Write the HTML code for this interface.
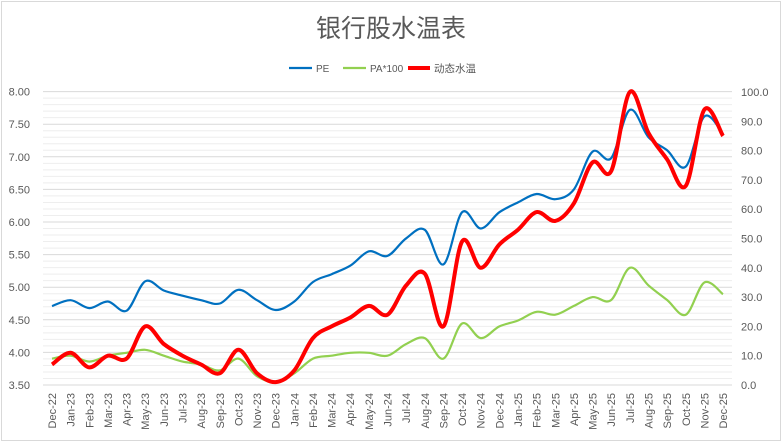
<!DOCTYPE html>
<html><head><meta charset="utf-8"><style>
body{margin:0;background:#fff;}
svg text{font-family:"Liberation Sans","Noto Sans CJK SC",sans-serif;fill:#595959;}
</style></head><body>
<svg id="s" width="783" height="443" viewBox="0 0 783 443" xmlns="http://www.w3.org/2000/svg">
<rect x="1.5" y="1.5" width="779" height="439" fill="#fff" stroke="#d9d9d9"/>
<text x="391" y="37" font-size="25" text-anchor="middle">银行股水温表</text>
<line x1="289" y1="68" x2="312" y2="68" stroke="#0070c0" stroke-width="2.2"/>
<text x="316" y="72" font-size="10">PE</text>
<line x1="343" y1="68" x2="366" y2="68" stroke="#92d050" stroke-width="2.2"/>
<text x="370" y="72" font-size="10">PA*100</text>
<line x1="408" y1="68" x2="430" y2="68" stroke="#ff0000" stroke-width="4"/>
<text x="434" y="72" font-size="10.5">动态水温</text>
<g id="grid"></g>
<g id="lab"></g>
<path id="pe" fill="none" stroke="#0070c0" stroke-width="2.2"/>
<path id="pa" fill="none" stroke="#92d050" stroke-width="2.2"/>
<path id="wt" fill="none" stroke="#ff0000" stroke-width="4"/>
</svg>
<script>
var NS="http://www.w3.org/2000/svg";
function el(t,a,txt,p){var e=document.createElementNS(NS,t);for(var k in a)e.setAttribute(k,a[k]);if(txt!=null)e.textContent=txt;document.getElementById(p).appendChild(e);return e;}
var x0=52,step=18.64,yb=385;
for(var i=0;i<=45;i++){var y=yb-i*6.52;el('line',{x1:43,x2:732,y1:y,y2:y,stroke:(i%5==0)?'#d9d9d9':'#eeeeee','stroke-width':1},null,'grid');}
for(var i=0;i<=9;i++){var y=yb-i*32.6;el('text',{x:30,y:y+4,'font-size':11,'text-anchor':'end'},(3.5+i*0.5).toFixed(2),'lab');}
for(var i=0;i<=10;i++){var y=yb-i*29.3;el('text',{x:741,y:y+4,'font-size':11},(i*10).toFixed(1),'lab');}
var mon=['Jan','Feb','Mar','Apr','May','Jun','Jul','Aug','Sep','Oct','Nov','Dec'];
for(var i=0;i<37;i++){var m=(i+11)%12,yr=22+Math.floor((i+11)/12);var x=x0+i*step;
el('text',{x:0,y:0,'font-size':11,'text-anchor':'end',transform:'translate('+(x+4)+',393) rotate(-90)'},mon[m]+'-'+yr,'lab');}
var pe=[4.71,4.80,4.68,4.78,4.64,5.09,4.95,4.87,4.80,4.75,4.96,4.80,4.65,4.78,5.08,5.20,5.33,5.55,5.48,5.75,5.88,5.35,6.15,5.90,6.15,6.30,6.43,6.35,6.50,7.08,6.98,7.72,7.30,7.10,6.85,7.62,7.35];
var wt=[7,11,6,10,9,20,14,10,7,4,12,4,1,5,16,20,23,27,24,34,38,20,49,40,48,53,59,56,62,76,73,100,86,77,68,94,85];
var pa=[9,10,8,10,11,12,10,8,7,5,9,3,1,4,9,10,11,11,10,14,16,9,21,16,20,22,25,24,27,30,29,40,34,29,24,35,31];
function path(pts){var d='M'+pts[0][0]+','+pts[0][1];for(var i=0;i<pts.length-1;i++){var p0=pts[Math.max(0,i-1)],p1=pts[i],p2=pts[i+1],p3=pts[Math.min(pts.length-1,i+2)];var t=6;
d+=' C'+(p1[0]+(p2[0]-p0[0])/t).toFixed(1)+','+(p1[1]+(p2[1]-p0[1])/t).toFixed(1)+' '+(p2[0]-(p3[0]-p1[0])/t).toFixed(1)+','+(p2[1]-(p3[1]-p1[1])/t).toFixed(1)+' '+p2[0].toFixed(1)+','+p2[1].toFixed(1);}return d;}
document.getElementById('pe').setAttribute('d',path(pe.map(function(v,i){return[x0+i*step,yb-(v-3.5)*65.2];})));
document.getElementById('pa').setAttribute('d',path(pa.map(function(v,i){return[x0+i*step,yb-v*2.93];})));
document.getElementById('wt').setAttribute('d',path(wt.map(function(v,i){return[x0+i*step,yb-v*2.93];})));
</script>
</body></html>
